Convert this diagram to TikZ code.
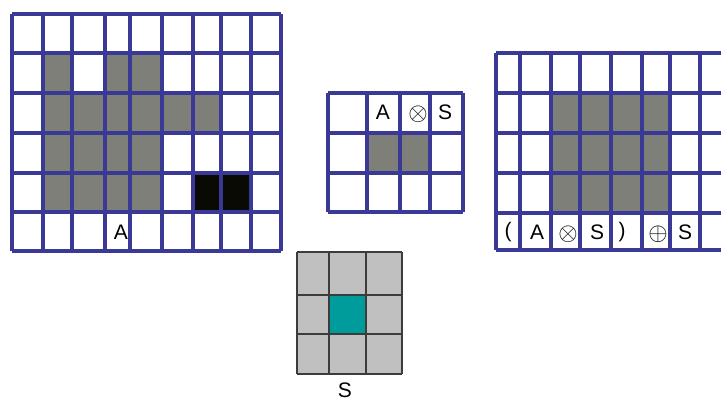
\documentclass[tikz,border=0pt]{standalone}
\usepackage{fontspec}
\setmainfont{Liberation Sans}
\begin{document}
\begin{tikzpicture}[x=1pt,y=-1pt,
  gridline/.style={draw=gridblue,line width=3.4pt},
  sline/.style={draw=sgray,line width=1.6pt},
  darkcell/.style={fill=cellgray},
  blackcell/.style={fill=cellblack},
  lbl/.style={inner sep=0pt,font=\fontsize{21}{23}\selectfont},
  op/.style={inner sep=0pt,font=\fontsize{27}{30}\selectfont}]
\definecolor{gridblue}{HTML}{3A3A96}
\definecolor{sgray}{HTML}{3C3C3C}
\definecolor{cellgray}{HTML}{7F7F7A}
\definecolor{cellblack}{HTML}{0A0A05}
\definecolor{teal2}{HTML}{009B9B}
\definecolor{lgray}{HTML}{C0C0C0}
\useasboundingbox (0,0) rectangle (721,403);
\clip (0,0) rectangle (721,403);
% ---- grid A ----
\fill[darkcell] (43,53) rectangle (72,93);
\fill[darkcell] (105,53) rectangle (162,93);
\fill[darkcell] (43,93) rectangle (221,133);
\fill[darkcell] (43,133) rectangle (162,212);
\fill[blackcell] (193,173) rectangle (251,212);
\foreach \x in {12,43,72,105,130,162,193,221,251,281}
  \draw[gridline] (\x,14) -- (\x,251);
\foreach \y in {14,53,93,133,173,212,251}
  \draw[gridline] (12,\y) -- (281,\y);
\node[lbl] (a1) at (121,232) {A};
% ---- middle grid ----
\fill[darkcell] (367,133) rectangle (430,173);
\foreach \x in {328,367,400,430,463}
  \draw[gridline] (\x,93) -- (\x,212);
\foreach \y in {93,133,173,212}
  \draw[gridline] (328,\y) -- (463,\y);
\node[lbl] (a2) at (383,112) {A};
\node[op] (o2) at (418,114) {$\otimes$};
\node[lbl] (s2) at (445,112) {S};
% ---- right grid ----
\fill[darkcell] (551,93) rectangle (670,213);
\foreach \x in {496,520,551,580,611,642,670,700,730}
  \draw[gridline] (\x,53) -- (\x,250);
\foreach \y in {53,93,133,173,213,250}
  \draw[gridline] (496,\y) -- (730,\y);
\node[lbl] (p1) at (508,232) {(};
\node[lbl] (a3) at (537,232) {A};
\node[op] (o3) at (568,234) {$\otimes$};
\node[lbl] (s3) at (597,232) {S};
\node[lbl] (p2) at (622,232) {)};
\node[op] (o4) at (658,234) {$\oplus$};
\node[lbl] (s4) at (685,232) {S};
% ---- S kernel ----
\fill[lgray] (297,252) rectangle (402,374);
\fill[teal2] (329,295) rectangle (366,334);
\foreach \x in {297,329,366,402}
  \draw[sline] (\x,252) -- (\x,374);
\foreach \y in {252,295,334,374}
  \draw[sline] (297,\y) -- (402,\y);
\node[lbl] (s1) at (345,390) {S};
\end{tikzpicture}
\end{document}
